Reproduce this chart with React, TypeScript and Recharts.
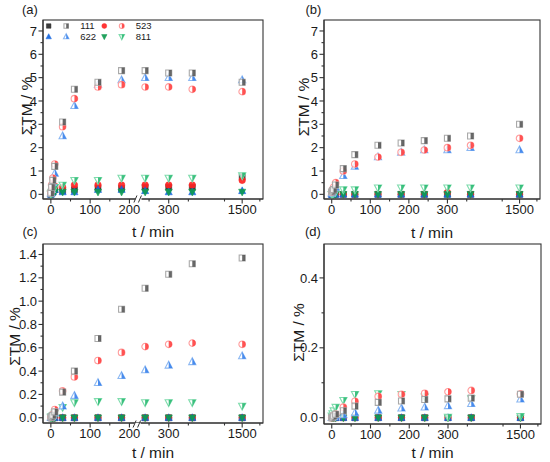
import React from 'react';
import { ScatterChart, Scatter, XAxis, YAxis, Legend } from 'recharts';

// ---------- data ----------
const times = [0, 2, 5, 10, 30, 60, 120, 180, 240, 300, 360, 1500];
const xMajorTicks = [0, 100, 200, 300, 1500];
const xMinorTicks = [50, 150, 250, 350, 1450, 1550];
const legendComps = ['111', '523', '622', '811'];

const yMajorAB = [0, 1, 2, 3, 4, 5, 6, 7];
const yMinorAB = [0.5, 1.5, 2.5, 3.5, 4.5, 5.5, 6.5];
const yMajorC = [0, 0.2, 0.4, 0.6, 0.8, 1.0, 1.2, 1.4];
const yMinorC = [0.1, 0.3, 0.5, 0.7, 0.9, 1.1, 1.3];
const yMajorD = [0, 0.2, 0.4];
const yMinorD = [0.1, 0.3];

// panel (a)
const a111f = [0, 0.05, 0.1, 0.2, 0.15, 0.2, 0.25, 0.25, 0.3, 0.3, 0.3, 0.75];
const a111h = [0.05, 0.3, 0.6, 1.2, 3.1, 4.5, 4.8, 5.3, 5.3, 5.2, 5.2, 4.8];
const a523f = [0.05, 0.2, 0.3, 0.35, 0.3, 0.4, 0.4, 0.4, 0.4, 0.4, 0.4, 0.6];
const a523h = [0.1, 0.4, 0.7, 1.3, 2.9, 4.1, 4.6, 4.7, 4.6, 4.6, 4.5, 4.4];
const a622f = [0, 0.05, 0.1, 0.2, 0.1, 0.1, 0.2, 0.2, 0.15, 0.1, 0.1, 0.15];
const a622h = [0.05, 0.2, 0.5, 0.9, 2.5, 3.8, 4.7, 4.9, 5.0, 5.0, 5.0, 4.9];
const a811f = [0, 0.02, 0.05, 0.1, 0.1, 0.1, 0.1, 0.1, 0.1, 0.1, 0.1, 0.1];
const a811h = [0.02, 0.1, 0.2, 0.3, 0.4, 0.6, 0.6, 0.7, 0.7, 0.7, 0.7, 0.8];

// panel (b)
const b111f = [0, 0, 0, 0, 0, 0, 0, 0, 0, 0, 0, 0];
const b111h = [0.1, 0.15, 0.2, 0.4, 1.1, 1.7, 2.1, 2.2, 2.3, 2.4, 2.5, 3.0];
const b523f = [0, 0, 0, 0, 0, 0, 0, 0, 0, 0.08, 0, 0];
const b523h = [0.1, 0.2, 0.3, 0.5, 1.0, 1.3, 1.6, 1.8, 1.9, 2.0, 2.1, 2.4];
const b622f = [0, 0, 0, 0, 0, 0, 0, 0, 0, 0, 0, 0];
const b622h = [0.05, 0.1, 0.2, 0.3, 0.8, 1.2, 1.6, 1.8, 1.9, 1.9, 2.0, 1.9];
const b811f = [0, 0, 0, 0, 0, 0, 0, 0, 0, 0, 0, 0];
const b811h = [0, 0.02, 0.05, 0.1, 0.2, 0.2, 0.28, 0.28, 0.28, 0.28, 0.28, 0.28];

// panel (c)
const c111f = [0, 0, 0, 0, 0, 0, 0, 0, 0, 0, 0, 0];
const c111h = [0.005, 0.01, 0.02, 0.05, 0.22, 0.4, 0.68, 0.93, 1.11, 1.23, 1.32, 1.37];
const c523f = [0, 0, 0, 0, 0, 0, 0, 0, 0, 0, 0, 0];
const c523h = [0.005, 0.01, 0.03, 0.07, 0.23, 0.35, 0.49, 0.56, 0.61, 0.63, 0.64, 0.63];
const c622f = [0, 0, 0, 0, 0, 0, 0, 0, 0, 0, 0, 0];
const c622h = [0.005, 0.01, 0.02, 0.04, 0.1, 0.19, 0.3, 0.36, 0.41, 0.45, 0.48, 0.53];
const c811f = [0, 0, 0, 0, 0, 0, 0, 0, 0, 0, 0, 0];
const c811h = [0.005, 0.01, 0.02, 0.04, 0.09, 0.13, 0.14, 0.14, 0.13, 0.13, 0.13, 0.1];

// panel (d)
const d111f = [0, 0, 0, 0, 0, 0, 0, 0, 0, 0, 0, 0];
const d111h = [0, 0.002, 0.005, 0.01, 0.02, 0.033, 0.044, 0.048, 0.052, 0.054, 0.056, 0.067];
const d523f = [0, 0, 0, 0, 0, 0, 0, 0, 0, 0, 0, 0];
const d523h = [0, 0.003, 0.006, 0.01, 0.03, 0.047, 0.061, 0.067, 0.07, 0.074, 0.078, 0.068];
const d622f = [0, 0, 0, 0, 0, 0, 0, 0, 0, 0, 0, 0];
const d622h = [0, 0.002, 0.003, 0.005, 0.008, 0.014, 0.021, 0.027, 0.03, 0.034, 0.04, 0.053];
const d811f = [0, 0, 0, 0, 0, 0, 0, 0, 0, 0, 0, 0];
const d811h = [0.005, 0.012, 0.02, 0.03, 0.05, 0.067, 0.069, 0.067, 0.06, 0.002, 0.055, 0.004];

// ---------- styling ----------
const FONT = '"Liberation Sans", Arial, sans-serif';
const LINE = '#333333';
const TXT = '#1a1a1a';

type Comp = '111' | '523' | '622' | '811';
const SHAPES: Record<string, string> = { '111': 'square', '523': 'circle', '622': 'tri', '811': 'dtri' };
const COLORS: Record<string, { main: string; half: string; light: string }> = {
  '111': { main: '#2b2b2b', half: '#4d4d4d', light: '#a9a9a9' },
  '523': { main: '#ff2424', half: '#ff3535', light: '#ff9c9c' },
  '622': { main: '#1566e0', half: '#2a78ea', light: '#8cb8f2' },
  '811': { main: '#0f9a50', half: '#1db56a', light: '#7fdcad' },
};

// broken x axis: 0..400 linear, then 1400..1600 compressed
const BREAK_T = 405;
const fx = (t: number) => (t <= 400 ? t : 487 + (t - 1500) * 0.9);
const X_DOMAIN: [number, number] = [-20, 540];
const xMajorPos = xMajorTicks.map(fx);
const xTickPos = [...xMajorTicks, ...xMinorTicks].map(fx).sort((a, b) => a - b);

function paths(shape: string, cx: number, cy: number, k: number) {
  if (shape === 'square') {
    const s = 3 * k;
    return {
      full: `M${cx - s},${cy - s}H${cx + s}V${cy + s}H${cx - s}Z`,
      right: `M${cx},${cy - s}H${cx + s}V${cy + s}H${cx}Z`,
    };
  }
  if (shape === 'circle') {
    const r = 3.3 * k;
    return {
      full: `M${cx - r},${cy}A${r},${r} 0 1 0 ${cx + r},${cy}A${r},${r} 0 1 0 ${cx - r},${cy}Z`,
      right: `M${cx},${cy - r}A${r},${r} 0 0 1 ${cx},${cy + r}Z`,
    };
  }
  const w = 3.6 * k;
  const h1 = 4.0 * k;
  const h2 = 2.8 * k;
  if (shape === 'tri') {
    return {
      full: `M${cx},${cy - h1}L${cx + w},${cy + h2}L${cx - w},${cy + h2}Z`,
      right: `M${cx},${cy - h1}L${cx + w},${cy + h2}L${cx},${cy + h2}Z`,
    };
  }
  return {
    full: `M${cx},${cy + h1}L${cx + w},${cy - h2}L${cx - w},${cy - h2}Z`,
    right: `M${cx},${cy + h1}L${cx + w},${cy - h2}L${cx},${cy - h2}Z`,
  };
}

function Marker({ cx, cy, comp, half, k = 1 }: { cx?: number; cy?: number; comp: string; half: boolean; k?: number }) {
  if (cx == null || cy == null || Number.isNaN(cx) || Number.isNaN(cy)) return <g />;
  const p = paths(SHAPES[comp], cx, cy, k);
  const c = COLORS[comp];
  if (!half) {
    return <path d={p.full} fill={c.main} fillOpacity={0.92} stroke={c.main} strokeWidth={0.5} />;
  }
  return (
    <g>
      <path d={p.full} fill="#ffffff" fillOpacity={0.75} stroke={c.light} strokeWidth={1.1} />
      <path d={p.right} fill={c.half} fillOpacity={0.85} />
    </g>
  );
}

const SERIES_ORDER: { comp: Comp; half: boolean }[] = [
  { comp: '111', half: false },
  { comp: '523', half: false },
  { comp: '622', half: false },
  { comp: '811', half: false },
  { comp: '811', half: true },
  { comp: '622', half: true },
  { comp: '523', half: true },
  { comp: '111', half: true },
];

const rows = (vals: number[]) => vals.map((v, i) => ({ x: fx(times[i]), y: v }));

interface PanelCfg {
  id: string;
  letter: string;
  left: number;
  top: number;
  w: number;
  h: number;
  plotLeft: number;
  mTop: number;
  mRight: number;
  xAxisH: number;
  yDomain: [number, number];
  yMajor: number[];
  yMinor: number[];
  dec: number;
  yLabelOff: number;
  yLabelCy: number;
  xLabelDy: number;
  letterX: number;
  letterY: number;
  legend: boolean;
  series: Record<string, number[]>;
}

const PANELS: PanelCfg[] = [
  {
    id: 'a', letter: '(a)', left: 0, top: 0, w: 275, h: 220, plotLeft: 43, mTop: 20, mRight: 12, xAxisH: 21,
    yDomain: [-0.2, 7.47], yMajor: yMajorAB, yMinor: yMinorAB, dec: 0,
    yLabelOff: 11, yLabelCy: 106, xLabelDy: 38, letterX: 22, letterY: 14, legend: true,
    series: { '111f': a111f, '111h': a111h, '523f': a523f, '523h': a523h, '622f': a622f, '622h': a622h, '811f': a811f, '811h': a811h },
  },
  {
    id: 'b', letter: '(b)', left: 275, top: 0, w: 275, h: 220, plotLeft: 49, mTop: 20, mRight: 10, xAxisH: 21,
    yDomain: [-0.2, 7.47], yMajor: yMajorAB, yMinor: yMinorAB, dec: 0,
    yLabelOff: 15, yLabelCy: 107, xLabelDy: 39, letterX: 30.5, letterY: 14, legend: false,
    series: { '111f': b111f, '111h': b111h, '523f': b523f, '523h': b523h, '622f': b622f, '622h': b622h, '811f': b811f, '811h': b811h },
  },
  {
    id: 'c', letter: '(c)', left: 0, top: 220, w: 275, h: 242, plotLeft: 43, mTop: 24, mRight: 12, xAxisH: 39,
    yDomain: [-0.045, 1.49], yMajor: yMajorC, yMinor: yMinorC, dec: 1,
    yLabelOff: 23, yLabelCy: 116.5, xLabelDy: 35, letterX: 22.5, letterY: 16, legend: false,
    series: { '111f': c111f, '111h': c111h, '523f': c523f, '523h': c523h, '622f': c622f, '622h': c622h, '811f': c811f, '811h': c811h },
  },
  {
    id: 'd', letter: '(d)', left: 275, top: 220, w: 275, h: 242, plotLeft: 49, mTop: 24, mRight: 9, xAxisH: 38,
    yDomain: [-0.018, 0.497], yMajor: yMajorD, yMinor: yMinorD, dec: 1,
    yLabelOff: 20, yLabelCy: 112.5, xLabelDy: 34, letterX: 30, letterY: 16, legend: false,
    series: { '111f': d111f, '111h': d111h, '523f': d523f, '523h': d523h, '622f': d622f, '622h': d622h, '811f': d811f, '811h': d811h },
  },
];

const XTick = (props: any) => {
  const { x, y, payload } = props;
  const idx = xMajorPos.findIndex((m) => Math.abs(m - payload.value) < 1e-6);
  const major = idx >= 0;
  return (
    <g>
      <line x1={x} y1={y} x2={x} y2={y + (major ? 4.5 : 2.5)} stroke={LINE} strokeWidth={1.1} />
      {major && (
        <text x={x} y={y + 14.5} textAnchor="middle" fontSize={13} fill={TXT} fontFamily={FONT}>
          {xMajorTicks[idx]}
        </text>
      )}
    </g>
  );
};

const makeYTick = (majors: number[], dec: number) => (props: any) => {
  const { x, y, payload } = props;
  const v = payload.value;
  const major = majors.some((m) => Math.abs(m - v) < 1e-9);
  return (
    <g>
      <line x1={x} y1={y} x2={x - (major ? 4.5 : 2.5)} y2={y} stroke={LINE} strokeWidth={1.1} />
      {major && (
        <text x={x - 6} y={y + 4.6} textAnchor="end" fontSize={13} fill={TXT} fontFamily={FONT}>
          {v.toFixed(dec)}
        </text>
      )}
    </g>
  );
};

const LegendBox = () => (
  <svg width={112} height={24} style={{ display: 'block', overflow: 'visible' }}>
    {legendComps.map((comp, i) => {
      const col = i % 2;
      const cy = i < 2 ? 6 : 16.7;
      const x0 = col === 0 ? 4.7 : 60.3;
      return (
        <g key={comp}>
          <Marker cx={x0} cy={cy} comp={comp} half={false} k={0.75} />
          <Marker cx={x0 + 17.5} cy={cy} comp={comp} half={true} k={0.75} />
          <text x={x0 + 31.5} y={cy + 3.4} fontSize={9.5} fill={TXT} fontFamily={FONT}>
            {comp}
          </text>
        </g>
      );
    })}
  </svg>
);

function Panel({ p }: { p: PanelCfg }) {
  const yTicks = [...p.yMajor, ...p.yMinor].sort((a, b) => a - b);
  const YTick = makeYTick(p.yMajor, p.dec);
  return (
    <ScatterChart width={p.w} height={p.h} margin={{ top: p.mTop, right: p.mRight, bottom: 0, left: 0 }}>
      <XAxis
        dataKey="x"
        type="number"
        domain={X_DOMAIN}
        ticks={xTickPos}
        interval={0}
        tick={XTick}
        tickLine={false}
        tickSize={0}
        tickMargin={0}
        height={p.xAxisH}
        axisLine={{ stroke: LINE, strokeWidth: 1.1 }}
      />
      <YAxis
        dataKey="y"
        type="number"
        domain={p.yDomain}
        ticks={yTicks}
        interval={0}
        tick={YTick}
        tickLine={false}
        tickSize={0}
        tickMargin={0}
        width={p.plotLeft}
        axisLine={{ stroke: LINE, strokeWidth: 1.1 }}
      />
      {SERIES_ORDER.map((s) => {
        const key = s.comp + (s.half ? 'h' : 'f');
        return (
          <Scatter
            key={key}
            name={key}
            data={rows(p.series[key])}
            isAnimationActive={false}
            shape={(sp: any) => <Marker cx={sp.cx} cy={sp.cy} comp={s.comp} half={s.half} />}
          />
        );
      })}
      {p.legend && (
        <Legend
          layout="vertical"
          align="center"
          verticalAlign="middle"
          content={() => <LegendBox />}
          wrapperStyle={{ position: 'absolute', left: 44, top: 20, width: 112, height: 24 }}
        />
      )}
    </ScatterChart>
  );
}

// frame, axis break and axis titles drawn over each panel (same domain mapping as the chart)
function PanelFrame({ p }: { p: PanelCfg }) {
  const L = p.plotLeft;
  const R = p.w - p.mRight;
  const T = p.mTop;
  const B = p.h - p.xAxisH;
  const sx = (v: number) => L + ((v - X_DOMAIN[0]) / (X_DOMAIN[1] - X_DOMAIN[0])) * (R - L);
  const cxPlot = (L + R) / 2;
  const lx = L - p.yLabelOff;
  const bx = sx(fx(BREAK_T));
  return (
    <svg
      width={p.w}
      height={p.h + 30}
      style={{ position: 'absolute', left: p.left, top: p.top, overflow: 'visible', pointerEvents: 'none' }}
    >
      <rect x={L} y={T} width={R - L} height={B - T} fill="none" stroke={LINE} strokeWidth={1.1} />
      <rect x={bx - 4} y={B - 1.2} width={6} height={2.4} fill="#ffffff" />
      <line x1={bx - 5.5} y1={B + 3.5} x2={bx - 2.5} y2={B - 3.5} stroke={LINE} strokeWidth={1} />
      <line x1={bx - 1} y1={B + 3.5} x2={bx + 2} y2={B - 3.5} stroke={LINE} strokeWidth={1} />
      <text x={p.letterX} y={p.letterY} fontSize={13} fill={TXT} fontFamily={FONT}>
        {p.letter}
      </text>
      <text x={cxPlot} y={B + p.xLabelDy} textAnchor="middle" fontSize={15.5} fill={TXT} fontFamily={FONT}>
        t / min
      </text>
      <text
        x={lx}
        y={p.yLabelCy}
        transform={`rotate(-90 ${lx} ${p.yLabelCy})`}
        textAnchor="middle"
        fontSize={15.5}
        fill={TXT}
        fontFamily={FONT}
      >
        ΣTM / %
      </text>
    </svg>
  );
}

export default function App() {
  return (
    <div style={{ position: 'absolute', left: 0, top: 0, width: 550, height: 462, background: '#ffffff', fontFamily: FONT }}>
      {PANELS.map((p) => (
        <div key={p.id} style={{ position: 'absolute', left: p.left, top: p.top }}>
          <Panel p={p} />
        </div>
      ))}
      {PANELS.map((p) => (
        <PanelFrame key={'f' + p.id} p={p} />
      ))}
    </div>
  );
}
